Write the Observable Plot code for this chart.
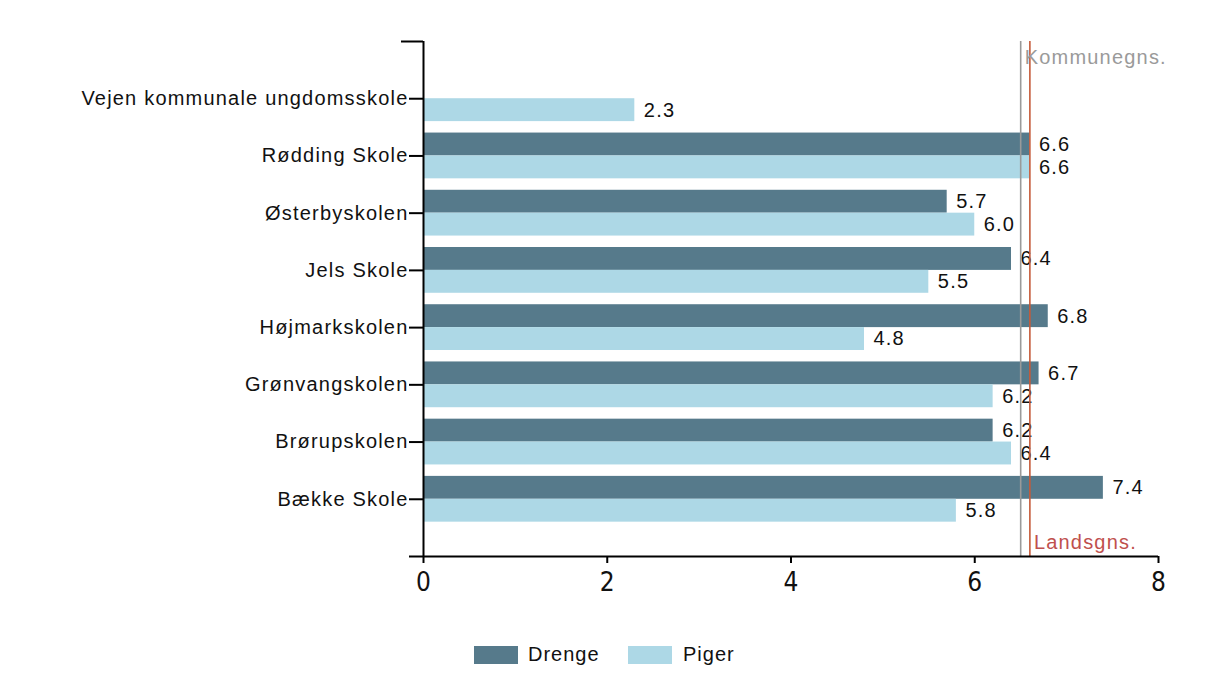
<!DOCTYPE html>
<html>
<head>
<meta charset="utf-8">
<script src="https://cdn.jsdelivr.net/npm/d3@7"></script>
<script src="https://cdn.jsdelivr.net/npm/@observablehq/plot@0.6"></script>
<style>
  html, body { margin: 0; padding: 0; background: #fff; }
  #wrap { position: relative; width: 1209px; height: 698px; }
  svg text { letter-spacing: 1.2px; }
  g[aria-label="x-axis tick label"] text { letter-spacing: 0; }
  #legend { position: absolute; left: 0; top: 645px; width: 1209px; height: 22px;
    font-family: Arial, "Liberation Sans", sans-serif; font-size: 20px; letter-spacing: 1px; color: #111; }
  .sw { position: absolute; top: 1px; width: 44px; height: 18px; }
  .lb { position: absolute; top: -2px; line-height: 22px; }
</style>
</head>
<body>
<div id="wrap">
  <div id="chart"></div>
  <div id="legend"></div>
</div>
<script>
const schools = [
  "Vejen kommunale ungdomsskole",
  "Rødding Skole",
  "Østerbyskolen",
  "Jels Skole",
  "Højmarkskolen",
  "Grønvangskolen",
  "Brørupskolen",
  "Bække Skole"
];
const drenge = [null, 6.6, 5.7, 6.4, 6.8, 6.7, 6.2, 7.4];
const piger  = [2.3, 6.6, 6.0, 5.5, 4.8, 6.2, 6.4, 5.8];
const series = ["Drenge", "Piger"];
const colors = ["#567a8b", "#add8e6"];
const kommuneGns = 6.5;
const landsGns = 6.6;
const xTicks = [0, 2, 4, 6, 8];

const rows = [];
schools.forEach((s, i) => {
  const pos = i + 1;
  if (drenge[i] != null) rows.push({school: s, pos, gender: "Drenge", value: drenge[i], y1: pos - 0.4, y2: pos, yc: pos - 0.2});
  if (piger[i] != null) rows.push({school: s, pos, gender: "Piger", value: piger[i], y1: pos, y2: pos + 0.4, yc: pos + 0.2});
});

const font = 'Arial, "Liberation Sans", sans-serif';

const chart = Plot.plot({
  width: 1209,
  height: 600,
  marginTop: 41,
  marginBottom: 44,
  marginLeft: 423,
  marginRight: 51,
  style: {fontFamily: font, fontSize: "20px", color: "#111", background: "#fff"},
  x: {domain: [0, 8]},
  y: {domain: [0, schools.length + 1], reverse: true},
  color: {domain: series, range: colors},
  marks: [
    Plot.rectX(rows, {x1: 0, x2: "value", y1: "y1", y2: "y2", fill: "gender"}),
    Plot.text(rows, {x: "value", y: "yc", text: d => d.value.toFixed(1), dx: 9, textAnchor: "start", fill: "#111", fontSize: 20}),
    Plot.ruleX([kommuneGns], {stroke: "#9a9a9a", strokeWidth: 1.6}),
    Plot.ruleX([landsGns], {stroke: "#c55a3a", strokeWidth: 1.6}),
    Plot.text([kommuneGns], {x: d => d, text: () => "Kommunegns.", frameAnchor: "top", lineAnchor: "top", dx: 4, dy: 8, textAnchor: "start", fill: "#9a9a9a", fontSize: 20}),
    Plot.text([landsGns], {x: d => d, text: () => "Landsgns.", frameAnchor: "bottom", lineAnchor: "bottom", dx: 4, dy: -8, textAnchor: "start", fill: "#c0504d", fontSize: 20}),
    Plot.ruleX([0], {stroke: "#000", strokeWidth: 2}),
    Plot.ruleY([schools.length + 1], {stroke: "#000", strokeWidth: 2}),
    Plot.axisY({
      ticks: d3.range(1, schools.length + 2),
      tickSize: 14,
      tickPadding: 1,
      tickFormat: i => schools[i - 1] ?? "",
      stroke: "#000",
      strokeWidth: 2,
      fontSize: 20,
      label: null
    }),
    Plot.axisY({ticks: [0], tickSize: 22, tickFormat: () => "", stroke: "#000", strokeWidth: 2, label: null}),
    Plot.axisX({
      ticks: xTicks,
      tickSize: 7,
      tickPadding: 9,
      stroke: "#000",
      strokeWidth: 2,
      fontSize: 26,
      fontFamily: '"Liberation Sans Narrow", "Arial Narrow", "DejaVu Sans Condensed", sans-serif',
      label: null
    })
  ]
});
document.getElementById("chart").appendChild(chart);

const legend = document.getElementById("legend");
const legendPos = [[474, 528], [628, 683]];
series.forEach((s, i) => {
  const sw = document.createElement("div");
  sw.className = "sw";
  sw.style.left = legendPos[i][0] + "px";
  sw.style.background = colors[i];
  legend.appendChild(sw);
  const lb = document.createElement("div");
  lb.className = "lb";
  lb.style.left = legendPos[i][1] + "px";
  lb.textContent = s;
  legend.appendChild(lb);
});
</script>
</body>
</html>
